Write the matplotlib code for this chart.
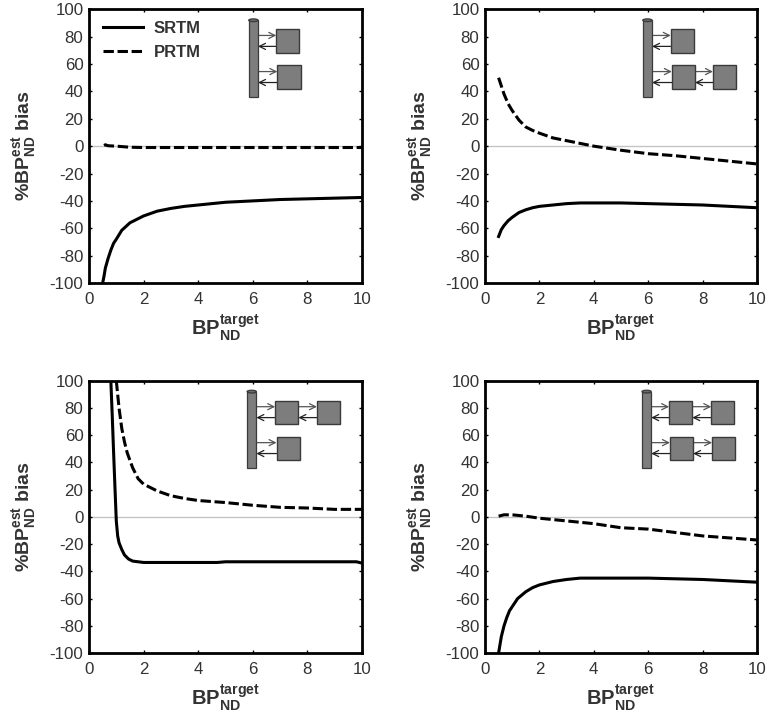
#!/usr/bin/env python3

"""Four panels of %BP_ND bias against target BP_ND, SRTM vs PRTM."""

import matplotlib
matplotlib.use("Agg")
import matplotlib.pyplot as plt
from matplotlib.patches import Rectangle, Ellipse

plt.rcParams['font.family'] = ['Liberation Sans', 'DejaVu Sans']
plt.rcParams['mathtext.fontset'] = 'custom'
plt.rcParams['mathtext.bf'] = 'Liberation Sans:bold'
plt.rcParams['mathtext.rm'] = 'Liberation Sans:bold'
plt.rcParams['axes.unicode_minus'] = False

TEXT = '#333333'

# values, one pair of x/y lists per curve
srtm_a_x = [0.5, 0.55, 0.6, 0.7, 0.8, 0.9, 1.0, 1.2, 1.5, 2.0, 2.5, 3.0, 3.5, 4, 5, 6, 7, 8, 9, 10]
srtm_a_y = [-100, -95, -89, -82, -76, -71, -68, -61.5, -56, -51, -47.5, -45.5, -44, -43, -41, -40, -39, -38.5, -38, -37.5]
prtm_a_x = [0.55, 0.6, 0.7, 1.0, 1.5, 2, 3, 4, 5, 6, 7, 8, 9, 10]
prtm_a_y = [0.5, 1, 0.3, 0, -0.8, -1, -1, -1, -1, -1, -1, -1, -1, -1]

srtm_b_x = [0.5, 0.6, 0.7, 0.85, 1.0, 1.25, 1.5, 1.75, 2, 2.5, 3, 3.5, 4, 5, 6, 7, 8, 9, 10]
srtm_b_y = [-66, -61, -58, -54.5, -52, -48.5, -46.5, -45, -44, -43, -42, -41.5, -41.5, -41.5, -42, -42.5, -43, -44, -45]
prtm_b_x = [0.5, 0.6, 0.7, 0.85, 1.0, 1.25, 1.5, 1.75, 2, 2.5, 3, 3.5, 4, 5, 6, 7, 8, 9, 10]
prtm_b_y = [50, 44, 38, 31, 26, 19, 14, 11.5, 9.5, 6, 4, 2, 0, -3, -5.5, -7, -9, -11, -13]

srtm_c_x = [0.8, 0.85, 0.9, 0.95, 1.0, 1.05, 1.1, 1.2, 1.3, 1.45, 1.6, 1.8, 2, 3, 4, 4.7, 5, 6, 7, 8, 9, 9.8, 10]
srtm_c_y = [100, 75, 48, 22, -3, -14, -19, -24, -28, -31, -32.5, -33, -33.5, -33.5, -33.5, -33.5, -33, -33, -33, -33, -33, -33, -34]
prtm_c_x = [1.0, 1.05, 1.1, 1.2, 1.3, 1.4, 1.6, 1.8, 2, 2.5, 3, 3.5, 4, 5, 6, 7, 8, 9, 10]
prtm_c_y = [100, 90, 80, 65, 55, 47, 36, 28, 24, 19, 15.5, 13.5, 12, 10.5, 8.5, 7, 6.5, 5.5, 5.5]

srtm_d_x = [0.5, 0.55, 0.6, 0.7, 0.8, 0.9, 1.0, 1.2, 1.5, 1.75, 2, 2.5, 3, 3.5, 4, 5, 6, 7, 8, 9, 10]
srtm_d_y = [-100, -94, -88, -80, -74, -69, -66, -60, -55, -52, -50, -47.5, -46, -45, -45, -45, -45, -45.5, -46, -47, -48]
prtm_d_x = [0.5, 0.7, 1.0, 1.5, 2, 2.5, 3, 4, 5, 6, 7, 8, 9, 10]
prtm_d_y = [0.5, 1.5, 1.5, 0.5, -1, -2, -3, -5, -8, -9, -11.5, -14, -15.5, -17]

xticks = [0, 2, 4, 6, 8, 10]
yticks = [-100, -80, -60, -40, -20, 0, 20, 40, 60, 80, 100]

# schematic: column left edge, then box left edges for the upper and lower row
schem_a = (5.85, [6.86], [6.9])
schem_b = (5.8, [6.83], [6.87, 8.38])
schem_c = (5.79, [6.82, 8.35], [6.87])
schem_d = (5.77, [6.77, 8.32], [6.8, 8.35])


def arrow(ax, x0, x1, y, col):
    ax.annotate("", xy=(x1, y), xytext=(x0, y),
                arrowprops=dict(arrowstyle="->", color=col, lw=0.9,
                                shrinkA=0, shrinkB=0, mutation_scale=11))


def draw_schematic(ax, col_x, upper, lower):
    """Compartment diagram, placed in data units of the panel"""
    col_w = 0.34
    box_w = 0.85
    ax.add_patch(Rectangle((col_x, 36), col_w, 56, fc='#7d7d7d', ec='#3a3a3a', lw=0.9, zorder=4))
    ax.add_patch(Ellipse((col_x+col_w/2, 92), col_w, 2, fc='#6a6a6a', ec='#3a3a3a', lw=0.9, zorder=5))
    for row, ytop in ((upper, 85.4), (lower, 59)):
        yf = ytop-4.5
        yb = ytop-12.5
        prev = col_x+col_w
        for bx in row:
            arrow(ax, prev, bx, yf, '#555555')
            arrow(ax, bx, prev, yb, '#222222')
            ax.add_patch(Rectangle((bx, ytop-17), box_w, 17, fc='#7d7d7d', ec='#3a3a3a', lw=1.0, zorder=4))
            prev = bx+box_w


def setup_panel(ax):
    ax.axhline(0, color='#c4c4c4', lw=1.0, zorder=1)
    ax.set_xlim(0, 10)
    ax.set_ylim(-100, 100)
    ax.set_xticks(xticks)
    ax.set_yticks(yticks)
    ax.tick_params(direction='in', top=True, right=True, length=2.5, width=1.0,
                   labelsize=12.2, labelcolor=TEXT)
    ax.tick_params(axis='x', pad=6.5)
    ax.tick_params(axis='y', pad=4)
    for s in ax.spines.values():
        s.set_linewidth(2.0)
    ax.set_xlabel(r'$\mathbf{BP}_{\mathbf{ND}}^{\mathbf{target}}$', fontsize=14.5, color=TEXT, labelpad=5)
    ax.set_ylabel(r'%$\mathbf{BP}_{\mathbf{ND}}^{\mathbf{est}}$ bias', fontsize=14,
                  fontweight='bold', color=TEXT, labelpad=8)


fig = plt.figure(figsize=(7.68, 7.17), dpi=100)

# axes corners in pixels of the reference
W, H = 768.0, 717.0
boxes = [(89, 362, 9.3, 283), (485, 757, 9.3, 283), (89, 362, 380.7, 653), (485, 757, 380.7, 653)]
curves = [(srtm_a_x, srtm_a_y, prtm_a_x, prtm_a_y, schem_a),
          (srtm_b_x, srtm_b_y, prtm_b_x, prtm_b_y, schem_b),
          (srtm_c_x, srtm_c_y, prtm_c_x, prtm_c_y, schem_c),
          (srtm_d_x, srtm_d_y, prtm_d_x, prtm_d_y, schem_d)]

for i in range(4):
    x0, x1, ytop, ybot = boxes[i]
    ax = fig.add_axes([x0/W, 1-ybot/H, (x1-x0)/W, (ybot-ytop)/H])
    sx, sy, px, py, schem = curves[i]
    setup_panel(ax)
    ax.plot(sx, sy, color='black', lw=2.2, label='SRTM', zorder=3)
    ax.plot(px, py, color='black', lw=2.2, ls=(0, (3.4, 1.2)), label='PRTM', zorder=3)
    draw_schematic(ax, *schem)
    if i == 0:
        leg = ax.legend(loc='upper left', frameon=False, fontsize=12, handlelength=2.4,
                        labelspacing=0.55, bbox_to_anchor=(0.01, 1.0), borderaxespad=0.3,
                        handletextpad=0.6)
        for t in leg.get_texts():
            t.set_color(TEXT)
            t.set_fontweight('bold')

fig.savefig("out.png", dpi=100)
